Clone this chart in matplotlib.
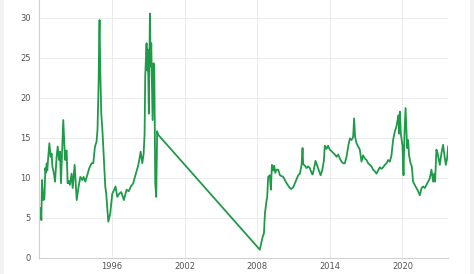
import matplotlib
matplotlib.use("Agg")
import matplotlib.pyplot as plt
from matplotlib.patches import Rectangle

# Values (decimal year, value)
years_a = [1990.00, 1990.11, 1990.17, 1990.22, 1990.33, 1990.42, 1990.50, 1990.55,
           1990.61, 1990.66, 1990.72, 1990.83, 1990.94, 1991.02, 1991.08, 1991.21,
           1991.30, 1991.43, 1991.52, 1991.63, 1991.71, 1991.79, 1991.87, 1991.98,
           1992.09, 1992.15, 1992.20, 1992.26, 1992.34, 1992.42, 1992.53, 1992.67,
           1992.76, 1992.92, 1993.09, 1993.25, 1993.39, 1993.55, 1993.66, 1993.80,
           1993.96, 1994.13, 1994.32, 1994.46, 1994.60, 1994.73, 1994.81, 1994.90,
           1994.95, 1994.98, 1995.03, 1995.12, 1995.23, 1995.45, 1995.53, 1995.70,
           1995.86, 1996.03, 1996.19, 1996.30, 1996.44, 1996.61, 1996.77, 1996.99,
           1997.21, 1997.38, 1997.57, 1997.76, 1997.90, 1998.15, 1998.26, 1998.37,
           1998.51, 1998.62, 1998.70, 1998.75, 1998.86, 1998.92, 1998.97, 1999.05,
           1999.14, 1999.20, 1999.25, 1999.36, 1999.44, 1999.50, 1999.58, 1999.66,
           1999.74, 1999.80]
values_a = [5.75, 6.2, 4.7, 9.7, 7.2, 7.3, 11.2, 10.6,
            11.8, 10.9, 12.2, 14.3, 12.6, 13.0, 11.4, 10.5,
            9.5, 12.6, 13.9, 12.2, 13.25, 9.3, 12.6, 17.2,
            13.5, 12.2, 13.25, 13.4, 9.3, 9.6, 9.1, 10.5,
            8.7, 11.6, 7.2, 8.9, 10.1, 9.7, 10.1, 9.5,
            10.3, 11.2, 11.8, 11.8, 13.9, 14.5, 16.0, 21.8,
            28.0, 29.7, 23.9, 18.0, 15.5, 8.9, 8.0, 4.5,
            5.5, 8.0, 8.5, 8.9, 7.6, 8.0, 8.2, 7.2,
            8.5, 8.3, 8.9, 9.3, 10.1, 11.4, 12.2, 13.25,
            11.8, 13.0, 15.5, 22.6, 26.8, 23.4, 26.0, 18.0,
            30.5, 23.9, 26.8, 17.2, 24.3, 23.8, 9.3, 7.6,
            15.8, 15.4]

years_b = [2008.22, 2008.45, 2008.56, 2008.64, 2008.78, 2008.83, 2008.91, 2009.05,
           2009.13, 2009.22, 2009.32, 2009.41, 2009.49, 2009.60, 2009.74, 2009.88,
           2010.15, 2010.43, 2010.70, 2010.84, 2010.98, 2011.25, 2011.39, 2011.53,
           2011.67, 2011.75, 2011.80, 2011.94, 2012.08, 2012.21, 2012.35, 2012.49,
           2012.58, 2012.68, 2012.82, 2012.96, 2013.10, 2013.24, 2013.37, 2013.51,
           2013.59, 2013.73, 2013.86, 2014.00, 2014.15, 2014.28, 2014.42, 2014.56,
           2014.69, 2014.83, 2014.97, 2015.10, 2015.24, 2015.38, 2015.52, 2015.66,
           2015.80, 2015.93, 2016.01, 2016.09, 2016.21, 2016.34, 2016.48, 2016.62,
           2016.75, 2016.89, 2017.04, 2017.17, 2017.31, 2017.45, 2017.58, 2017.72,
           2017.86, 2017.99, 2018.13, 2018.27, 2018.41, 2018.55, 2018.69, 2018.82,
           2018.96, 2019.10, 2019.23, 2019.37, 2019.51, 2019.60, 2019.68, 2019.73,
           2019.79, 2019.87, 2020.01, 2020.09, 2020.17, 2020.26, 2020.34, 2020.39,
           2020.47, 2020.55, 2020.67, 2020.78, 2020.88, 2021.02, 2021.16, 2021.30,
           2021.44, 2021.58, 2021.71, 2021.85, 2021.99, 2022.13, 2022.26, 2022.40,
           2022.54, 2022.62, 2022.70, 2022.81, 2022.90, 2023.01, 2023.09, 2023.23,
           2023.36, 2023.48, 2023.59, 2023.69, 2023.78]
values_b = [1.0, 2.6, 3.05, 5.5, 7.2, 7.6, 10.1, 10.3,
            8.5, 11.6, 10.9, 11.5, 10.6, 11.0, 11.0, 10.3,
            10.1, 9.3, 8.7, 8.6, 8.8, 9.8, 10.3, 10.5,
            11.6, 13.7, 11.7, 11.5, 11.2, 11.4, 11.2, 10.6,
            10.4, 11.0, 12.1, 11.5, 10.9, 10.3, 10.9, 12.1,
            14.0, 13.6, 14.0, 13.5, 13.3, 13.1, 12.9, 12.6,
            12.9, 12.4, 12.0, 11.8, 11.8, 12.6, 13.9, 14.9,
            14.7, 15.1, 17.4, 15.1, 14.3, 13.9, 13.5, 12.0,
            12.8, 12.4, 12.2, 11.8, 11.6, 11.4, 11.0, 10.8,
            10.5, 10.9, 11.3, 11.1, 11.3, 11.6, 11.8, 12.2,
            12.0, 12.8, 14.7, 15.75, 16.4, 17.2, 17.8, 15.5,
            18.25, 15.5, 13.9, 10.3, 15.5, 18.7, 15.5, 13.7,
            14.7, 12.8, 11.8, 11.4, 9.5, 9.1, 8.7, 8.3,
            7.8, 8.7, 8.9, 8.7, 9.1, 9.5, 9.9, 11.0,
            9.5, 10.5, 9.5, 13.5, 13.1, 12.2, 11.6, 13.1,
            14.1, 12.7, 11.6, 12.4, 13.9]

x_ticks = [1996, 2002, 2008, 2014, 2020]
y_ticks = [0, 5, 10, 15, 20, 25, 30]

fig = plt.figure(figsize=(4.74, 2.74), dpi=100)
fig.patch.set_facecolor("white")

# light gray card edges
fig.patches.append(Rectangle((0, 0), 4 / 474, 1, transform=fig.transFigure,
                             facecolor="#f2f2f2", edgecolor="none", zorder=0))
fig.patches.append(Rectangle((470 / 474, 0), 4 / 474, 1, transform=fig.transFigure,
                             facecolor="#f2f2f2", edgecolor="none", zorder=0))

ax = fig.add_axes([39.3 / 474, 16.3 / 274, 409.1 / 474, 257.7 / 274])

ax.plot(years_a + years_b, values_a + values_b, color="#1f9a48", linewidth=1.3)

ax.set_xlim(1990.0, 2023.8)
ax.set_ylim(0, 32.2)
ax.set_xticks(x_ticks)
ax.set_yticks(y_ticks)
ax.grid(True, color="#ececec", linewidth=0.7)
ax.set_axisbelow(True)

for side in ["top", "right"]:
    ax.spines[side].set_visible(False)
for side in ["left", "bottom"]:
    ax.spines[side].set_color("#d0d0d0")
    ax.spines[side].set_linewidth(0.8)

ax.tick_params(axis="both", length=0, labelsize=6, labelcolor="#555555")
ax.tick_params(axis="y", pad=6)
ax.tick_params(axis="x", pad=3)

fig.savefig("out.png", dpi=100)
